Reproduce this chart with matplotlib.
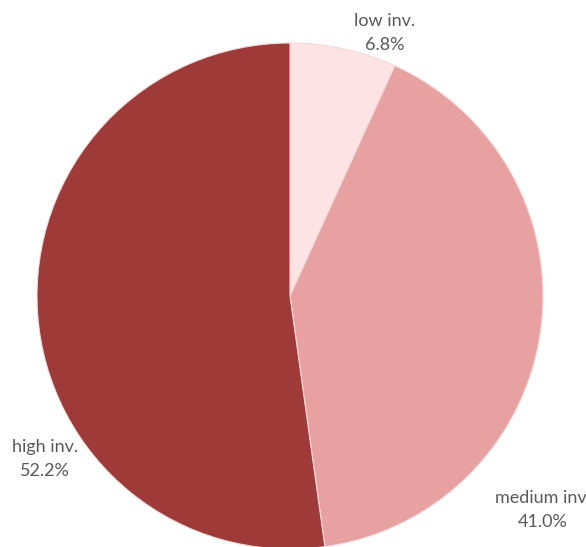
import matplotlib
matplotlib.use("Agg")
import matplotlib.pyplot as plt

categories = ["low inv.", "medium inv.", "high inv."]
shares = [6.8, 41.0, 52.2]
colors = ["#fde3e3", "#e6a1a0", "#9e3b39"]
# label anchor points in pixels (x, y from top), Excel "best fit" placement
label_pos = [(385, 33), (543, 510), (45, 459)]

W, H = 586, 547
fig = plt.figure(figsize=(W / 100, H / 100), dpi=100)
ax = fig.add_axes([0, 0, 1, 1])

cx, cy, r = 290, H - 296, 253
wedges, _ = ax.pie(shares, colors=colors, startangle=90, counterclock=False,
                   center=(cx, cy), radius=r, frame=True,
                   wedgeprops=dict(edgecolor="#f3dada", linewidth=0.8))
ax.set_xlim(0, W); ax.set_ylim(0, H)
ax.set_aspect("equal"); ax.axis("off")

for name, val, (x, y) in zip(categories, shares, label_pos):
    ax.text(x, H - y, f"{name}\n{val:.1f}%", ha="center", va="center",
            fontsize=13, family="Lato", color="#595959", linespacing=1.6)

fig.savefig("out.png", dpi=100)
